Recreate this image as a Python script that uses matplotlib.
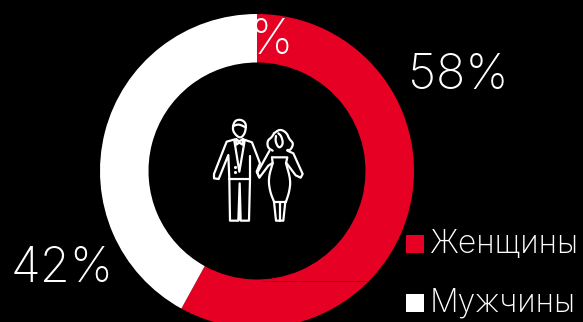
import matplotlib
matplotlib.use("Agg")
from matplotlib import pyplot as plt
from matplotlib.patches import Rectangle
import numpy as np

categories = ["Женщины", "Мужчины"]
values = [58, 42]
colors = ["#e60023", "#ffffff"]

W, H = 583, 322
plt.rcParams['font.family'] = ['Inter', 'DejaVu Sans']

fig = plt.figure(figsize=(W / 100, H / 100), dpi=100, facecolor="black")
ax = fig.add_axes([0, 0, 1, 1])

# кольцо
ax.pie(values, colors=colors, startangle=90, counterclock=False, center=(257, H - 171),
       radius=157, wedgeprops=dict(width=48.5, linewidth=0))
ax.set_aspect("equal")
ax.set_xlim(0, W)
ax.set_ylim(0, H)
ax.axis("off")

# тонкая линия на красном секторе
ax.plot([262, 368], [H - 280.5, H - 280.5], color="#a80019", lw=0.7, solid_capstyle="butt")

# подписи долей
ax.text(408, H - 89, "%d%%" % values[0], color="white", fontsize=35, fontweight="light", ha="left", va="baseline")
ax.text(11, H - 282, "%d%%" % values[1], color="white", fontsize=35, fontweight="light", ha="left", va="baseline")
ax.text(293, H - 54, "%", color="white", fontsize=35, fontweight="light", ha="right", va="baseline")

# легенда
for y, base, name, c in zip([244, 303], [253, 311], categories, colors):
    ax.add_patch(Rectangle((406, H - y - 9), 18, 18, color=c, lw=0))
    ax.text(430, H - base, name, color="white", fontsize=23, fontweight="light", ha="left", va="baseline")


def smooth(pts, n=3, closed=False):
    pts = np.array(pts, float)
    for _ in range(n):
        if closed:
            pts = np.vstack([pts, pts[0]])
        q = 0.75 * pts[:-1] + 0.25 * pts[1:]
        r = 0.25 * pts[:-1] + 0.75 * pts[1:]
        new = np.empty((len(q) * 2, 2))
        new[0::2] = q
        new[1::2] = r
        if not closed:
            new = np.vstack([pts[0], new, pts[-1]])
        pts = new
    if closed:
        pts = np.vstack([pts, pts[0]])
    return pts


def stroke(pts, curve=False, closed=False, lw=1.6):
    # контур значка, координаты в масштабе 3:1
    if curve:
        p = smooth(pts, closed=closed)
    else:
        p = np.array(pts + [pts[0]] if closed else pts, float)
    ax.plot(200 + p[:, 0] / 3, H - (100 + p[:, 1] / 3), color="white", lw=lw,
            solid_capstyle="round", solid_joinstyle="round")


# мужчина
stroke([(100, 72), (98, 92), (110, 108), (122, 114), (132, 104), (137, 90), (138, 70), (125, 59), (108, 60)], curve=True, closed=True)
stroke([(100, 78), (116, 72), (137, 82)], curve=True)
stroke([(105, 118), (80, 125), (72, 145), (42, 222), (42, 235), (56, 237), (85, 165), (88, 237), (90, 362), (115, 362),
        (119, 250), (122, 362), (147, 362), (150, 237), (150, 168)])
stroke([(88, 237), (150, 237)])
stroke([(130, 118), (156, 127), (180, 190), (170, 215), (178, 232)])
stroke([(103, 122), (118, 215), (134, 122)])
stroke([(109, 118), (118, 124), (129, 117), (128, 134), (118, 128), (109, 134)], closed=True)
ax.scatter([200 + 105 / 3] * 2, [H - 100 - 200 / 3, H - 100 - 215 / 3], s=5, c="white", lw=0)

# женщина
stroke([(222, 100), (240, 87), (260, 98), (268, 118), (281, 130), (272, 150), (262, 150)], curve=True)
stroke([(222, 100), (215, 112), (202, 122), (203, 143), (218, 152)], curve=True)
stroke([(228, 108), (226, 125), (237, 146), (250, 132), (244, 108), (235, 100)], curve=True)
stroke([(216, 172), (262, 172), (258, 190)])
stroke([(216, 172), (218, 190)])
stroke([(218, 190), (205, 235), (210, 275), (222, 305)], curve=True)
stroke([(258, 190), (272, 240), (268, 275), (258, 305)], curve=True)
stroke([(222, 305), (258, 305)])
stroke([(222, 305), (228, 362), (250, 362), (256, 305)])
stroke([(239, 310), (239, 362)])
stroke([(208, 153), (172, 218), (178, 233), (205, 197), (216, 190)])
stroke([(262, 152), (280, 160), (308, 222), (302, 233), (287, 226), (260, 190)])

fig.savefig("out.png", dpi=100, facecolor="black")
